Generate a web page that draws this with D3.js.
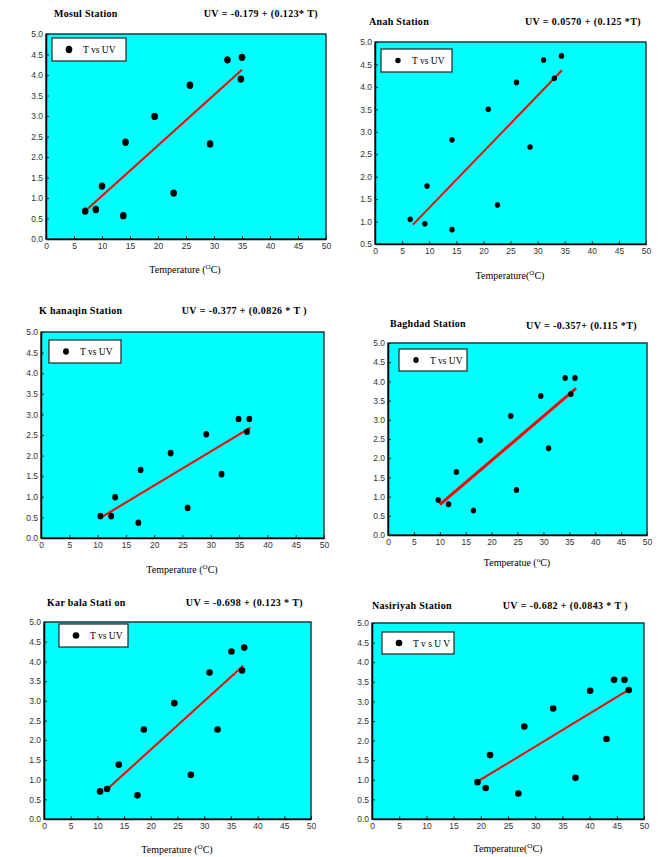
<!DOCTYPE html>
<html>
<head>
<meta charset="utf-8">
<script src="https://cdn.jsdelivr.net/npm/d3@7"></script>
<style>
  body { margin: 0; background: #fff; }
  .tick text { font-family: "Liberation Sans", Arial, sans-serif; font-size: 8.5px; fill: #333; }
  .serif { font-family: "Liberation Serif", "Times New Roman", serif; }
</style>
</head>
<body>
<svg id="chart" width="660" height="857"></svg>
<script>
// station names and regression equations
const stations = ["Mosul Station", "Anah Station", "K hanaqin Station", "Baghdad Station", "Kar bala Stati on", "Nasiriyah Station"];
const equations = ["UV =  -0.179 +  (0.123* T)", "UV =  0.0570 + (0.125 *T)", "UV = -0.377 + (0.0826 * T )",
                   "UV = -0.357+  (0.115 *T)", "UV =  -0.698 + (0.123 * T)", "UV = -0.682 + (0.0843 * T )"];
const legendLabels = ["T vs UV", "T vs UV", "T vs UV", "T vs UV", "T  vs  UV", "T  v s U V"];
const axisLabels = ["Temperature (", "Temperature(", "Temperature (", "Temperatue (", "Temperature (", "Temperature("];

// fitted lines: UV = a + b*T over the T range of the data
const intercepts = [-0.179, 0.0570, -0.377, -0.357, -0.698, -0.682];
const slopes = [0.123, 0.125, 0.0826, 0.115, 0.123, 0.0843];
const fitRanges = [[7.5, 35], [7, 34.5], [10.5, 37], [10, 36.3], [11.5, 37.3], [19.6, 47]];

// axes
const xTicks = [0, 5, 10, 15, 20, 25, 30, 35, 40, 45, 50];
const yTicks = [0, 0.5, 1, 1.5, 2, 2.5, 3, 3.5, 4, 4.5, 5];
const yMins = [0, 0.5, 0, 0, 0, 0];

// temperature (T, degC) vs UV
const mosulT  = [7.0, 8.9, 10.0, 13.8, 14.2, 19.4, 22.8, 25.7, 29.3, 32.4, 34.8, 35.0];
const mosulUV = [0.68, 0.72, 1.29, 0.57, 2.36, 2.99, 1.12, 3.75, 2.32, 4.37, 3.90, 4.43];
const anahT   = [6.5, 9.2, 9.6, 14.2, 14.2, 20.9, 22.6, 26.1, 28.6, 31.1, 33.1, 34.4];
const anahUV  = [1.05, 0.95, 1.79, 0.82, 2.82, 3.50, 1.37, 4.10, 2.66, 4.60, 4.19, 4.69];
const khanT   = [10.5, 12.4, 13.1, 17.2, 17.6, 22.9, 25.9, 29.2, 31.9, 34.9, 36.4, 36.8];
const khanUV  = [0.53, 0.53, 0.99, 0.37, 1.65, 2.06, 0.73, 2.52, 1.55, 2.89, 2.58, 2.89];
const baghT   = [9.7, 11.7, 13.2, 16.5, 17.8, 23.7, 24.8, 29.5, 31.0, 34.2, 35.3, 36.1];
const baghUV  = [0.91, 0.80, 1.64, 0.64, 2.47, 3.10, 1.17, 3.62, 2.26, 4.09, 3.67, 4.09];
const karbT   = [10.5, 11.8, 14.0, 17.5, 18.7, 24.4, 27.5, 31.0, 32.5, 35.1, 37.1, 37.5];
const karbUV  = [0.70, 0.76, 1.38, 0.60, 2.27, 2.94, 1.12, 3.72, 2.27, 4.25, 3.77, 4.35];
const nasT    = [19.4, 20.9, 21.7, 26.9, 28.0, 33.3, 37.4, 40.1, 43.1, 44.5, 46.4, 47.2];
const nasUV   = [0.94, 0.79, 1.63, 0.65, 2.36, 2.82, 1.05, 3.27, 2.04, 3.55, 3.55, 3.29];

const seriesT = [mosulT, anahT, khanT, baghT, karbT, nasT];
const seriesUV = [mosulUV, anahUV, khanUV, baghUV, karbUV, nasUV];

// page layout for each panel
const layout = [
  { x0: 46, x1: 326, y0: 34, y1: 239, titleX: 54, eqX: 318, titleY: 17, eqY: 17, labX: 185, labY: 273, leg: [6, 4, 74, 23], rx: 3.3, ry: 3.7, lw: 2 },
  { x0: 375, x1: 646, y0: 42, y1: 244, titleX: 369, eqX: 641, titleY: 25, eqY: 25, labX: 510, labY: 279, leg: [6, 7, 71, 23], rx: 2.7, ry: 2.8, lw: 2 },
  { x0: 41, x1: 324, y0: 332, y1: 538, titleX: 39, eqX: 307, titleY: 314, eqY: 314, labX: 182, labY: 573, leg: [8, 8, 72, 23], rx: 2.9, ry: 3.3, lw: 2 },
  { x0: 388, x1: 647, y0: 343, y1: 535, titleX: 390, eqX: 637, titleY: 327, eqY: 329, labX: 517, labY: 566, leg: [11, 6, 68, 22], rx: 2.7, ry: 3.0, lw: 3 },
  { x0: 44, x1: 311, y0: 622, y1: 819, titleX: 47, eqX: 303, titleY: 606, eqY: 606, labX: 177, labY: 853, leg: [15, 2, 69, 23], rx: 3.3, ry: 3.3, lw: 2 },
  { x0: 372, x1: 644, y0: 623, y1: 819, titleX: 372, eqX: 628, titleY: 609, eqY: 609, labX: 508, labY: 852, leg: [10, 9, 72, 22], rx: 3.3, ry: 3.3, lw: 2 }
];

const svg = d3.select("#chart");

layout.forEach((L, i) => {
  const x = d3.scaleLinear().domain([0, 50]).range([L.x0, L.x1]);
  const y = d3.scaleLinear().domain([yMins[i], 5]).range([L.y1, L.y0]);
  const g = svg.append("g");

  // plot background
  g.append("rect")
    .attr("x", L.x0).attr("y", L.y0)
    .attr("width", L.x1 - L.x0).attr("height", L.y1 - L.y0)
    .attr("fill", "#00ffff").attr("stroke", "#1b3b3b").attr("stroke-width", 1.5);

  // axes with inward ticks
  const xAxis = g.append("g").attr("transform", `translate(0,${L.y1})`)
    .call(d3.axisBottom(x).tickValues(xTicks).tickFormat(d3.format("d")).tickSizeInner(-3).tickSizeOuter(0).tickPadding(4));
  const yAxis = g.append("g").attr("transform", `translate(${L.x0},0)`)
    .call(d3.axisLeft(y).tickValues(yTicks.filter(v => v >= yMins[i])).tickFormat(d3.format(".1f")).tickSizeInner(-3).tickSizeOuter(0).tickPadding(3));
  [xAxis, yAxis].forEach(a => {
    a.select(".domain").attr("stroke", "#000").attr("stroke-width", 1.5);
    a.selectAll(".tick line").attr("stroke", "#222");
  });

  // regression line
  const fit = fitRanges[i].map(t => ({ t, uv: intercepts[i] + slopes[i] * t }));
  g.append("path")
    .datum(fit)
    .attr("d", d3.line().x(d => x(d.t)).y(d => y(d.uv)))
    .attr("stroke", "#ff0000").attr("stroke-width", L.lw).attr("fill", "none");

  // points
  g.selectAll(".pt")
    .data(seriesT[i].map((t, k) => ({ t, uv: seriesUV[i][k] })))
    .join("ellipse")
    .attr("cx", d => x(d.t)).attr("cy", d => y(d.uv))
    .attr("rx", L.rx).attr("ry", L.ry)
    .attr("fill", "#000");

  // legend
  const [lx, ly, lw, lh] = L.leg;
  const leg = g.append("g").attr("transform", `translate(${L.x0 + lx},${L.y0 + ly})`);
  leg.append("rect").attr("width", lw).attr("height", lh)
    .attr("fill", "#fff").attr("stroke", "#222").attr("stroke-width", 1.2);
  leg.append("ellipse").attr("cx", 17).attr("cy", lh / 2).attr("rx", L.rx).attr("ry", L.ry).attr("fill", "#000");
  leg.append("text").attr("class", "serif").attr("x", 31).attr("y", lh / 2 + 3.5)
    .attr("font-size", 9.5).text(legendLabels[i]);

  // titles
  g.append("text").attr("class", "serif").attr("x", L.titleX).attr("y", L.titleY)
    .attr("font-size", 10).attr("font-weight", "bold").attr("letter-spacing", 0.3).text(stations[i]);
  g.append("text").attr("class", "serif").attr("x", L.eqX).attr("y", L.eqY)
    .attr("text-anchor", "end").attr("font-size", 10).attr("font-weight", "bold")
    .attr("letter-spacing", 0.4).text(equations[i]);

  // x axis title with superscript O
  const lab = g.append("text").attr("class", "serif").attr("x", L.labX).attr("y", L.labY)
    .attr("text-anchor", "middle").attr("font-size", 10);
  lab.append("tspan").text(axisLabels[i]);
  lab.append("tspan").attr("dy", -4).attr("font-size", 7).text(i === 3 ? "o" : "O");
  lab.append("tspan").attr("dy", 4).text("C)");
});
</script>
</body>
</html>
